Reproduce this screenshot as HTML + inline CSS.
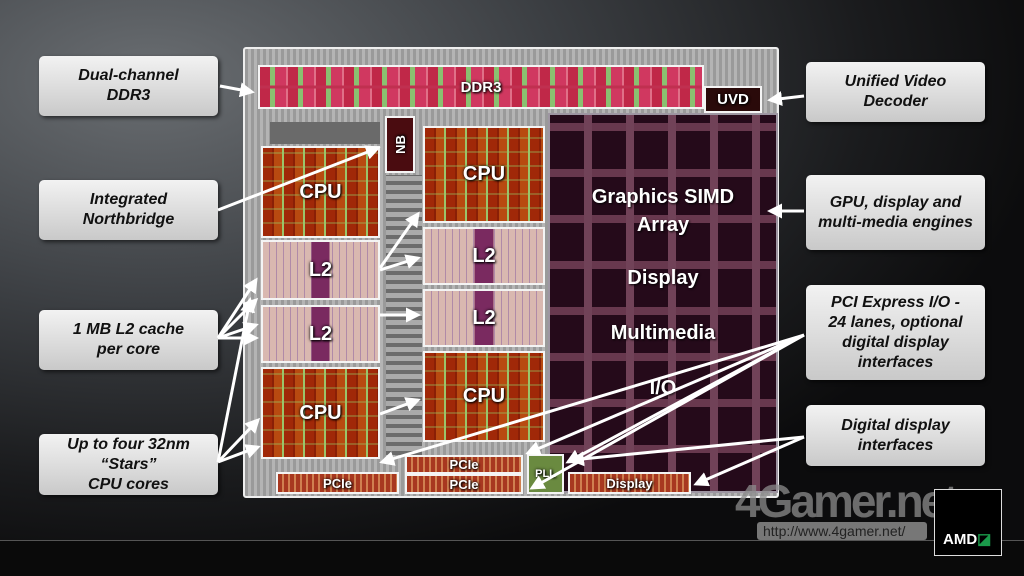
<!DOCTYPE html>
<html><head><meta charset="utf-8"><style>
*{margin:0;padding:0;box-sizing:border-box}
body{width:1024px;height:576px;overflow:hidden;position:relative;font-family:"Liberation Sans",sans-serif;
background:radial-gradient(ellipse 900px 500px at 150px 80px,#6a6e72 0%,#3c3f43 45%,#1a1b1d 80%,#0c0c0d 100%)}
.a{position:absolute}
.lab{position:absolute;border-radius:5px;background:linear-gradient(#f2f2f2,#c9c9c9);box-shadow:2px 2px 4px rgba(0,0,0,.6);
display:flex;align-items:center;justify-content:center;text-align:center;font-weight:bold;font-style:italic;font-size:16px;line-height:20px;color:#111}
.blk{position:absolute;border:2px solid #f4f4f4;display:flex;align-items:center;justify-content:center;color:#fff;font-weight:bold;
text-shadow:1px 1px 2px #000,0 0 3px #000}
.cpu{background:repeating-linear-gradient(90deg,#a02808 0 9px,#8a1f06 9px 11px,#b84a10 11px 19px,#9bc46a 19px 21px),#a02808;font-size:20px}
.cpu::after{content:"";position:absolute;inset:0;background:repeating-linear-gradient(0deg,transparent 0 12px,rgba(150,200,100,.35) 12px 14px)}
.cpu span{position:relative;z-index:1}
.l2{background:linear-gradient(90deg,transparent 42%,#7a2a60 42% 58%,transparent 58%),repeating-linear-gradient(90deg,#d9b8b0 0 6px,#b08aa8 6px 7px),#d0b0b0;font-size:20px}
.pcie{background:repeating-linear-gradient(90deg,#a83820 0 4px,#d08050 4px 6px),#a83820;font-size:13px;border-width:2px}
</style></head><body>
<div class="a" style="left:0;top:541px;width:1024px;height:35px;background:#0a0a0a"></div>
<div class="a" style="left:0;top:540px;width:1024px;height:1px;background:#555"></div>
<!-- die -->
<div class="a" style="left:243px;top:47px;width:536px;height:451px;background:repeating-linear-gradient(90deg,#9a9a9a 0 3px,#b4b4b4 3px 6px);border:2px solid #eee;border-radius:3px"></div>
<div class="a" style="left:386px;top:175px;width:36px;height:280px;background:repeating-linear-gradient(0deg,#6c6c6c 0 4px,#aaa 4px 9px)"></div>
<div class="a" style="left:270px;top:122px;width:110px;height:22px;background:#6a6a6a"></div>
<!-- DDR3 -->
<div class="blk" style="left:258px;top:65px;width:446px;height:44px;font-size:15px;background:linear-gradient(0deg,transparent 46%,#c03050 46% 54%,transparent 54%),repeating-linear-gradient(90deg,#c02848 0 10px,#8ac070 10px 15px,#d03860 15px 26px,#e07088 26px 28px),#c43060"><span>DDR3</span></div>
<div class="blk" style="left:704px;top:86px;width:58px;height:27px;background:#2a0a0a;font-size:15px">UVD</div>
<div class="blk" style="left:385px;top:116px;width:30px;height:57px;background:#4a0c10;font-size:13px"><span style="transform:rotate(-90deg)">NB</span></div>
<!-- GPU -->
<div class="a" style="left:548px;top:113px;width:230px;height:380px;border:2px solid #f4f4f4;
background:repeating-linear-gradient(0deg,#2a0a12 0 38px,#9a5868 38px 46px),repeating-linear-gradient(90deg,#200812 0 34px,#a86878 34px 42px);background-blend-mode:lighten"></div>
<div class="a" style="left:548px;top:113px;width:230px;height:380px;background:rgba(30,10,40,.4)"></div>
<div class="a" style="left:550px;top:183px;width:226px;text-align:center;color:#fff;font-weight:bold;font-size:20px;line-height:28px;text-shadow:1px 1px 2px #000">Graphics SIMD<br>Array</div>
<div class="a" style="left:550px;top:267px;width:226px;text-align:center;color:#fff;font-weight:bold;font-size:20px;text-shadow:1px 1px 2px #000">Display</div>
<div class="a" style="left:550px;top:322px;width:226px;text-align:center;color:#fff;font-weight:bold;font-size:20px;text-shadow:1px 1px 2px #000">Multimedia</div>
<div class="a" style="left:550px;top:377px;width:226px;text-align:center;color:#fff;font-weight:bold;font-size:20px;text-shadow:1px 1px 2px #000">I/O</div>
<!-- CPUs & L2 -->
<div class="blk cpu" style="left:261px;top:146px;width:119px;height:92px"><span>CPU</span></div>
<div class="blk l2" style="left:261px;top:240px;width:119px;height:60px">L2</div>
<div class="blk l2" style="left:261px;top:305px;width:119px;height:58px">L2</div>
<div class="blk cpu" style="left:261px;top:367px;width:119px;height:92px"><span>CPU</span></div>
<div class="blk cpu" style="left:423px;top:126px;width:122px;height:97px"><span>CPU</span></div>
<div class="blk l2" style="left:423px;top:227px;width:122px;height:58px">L2</div>
<div class="blk l2" style="left:423px;top:289px;width:122px;height:58px">L2</div>
<div class="blk cpu" style="left:423px;top:351px;width:122px;height:91px"><span>CPU</span></div>
<!-- bottom -->
<div class="blk pcie" style="left:276px;top:472px;width:123px;height:22px">PCIe</div>
<div class="blk pcie" style="left:405px;top:455px;width:118px;height:19px">PCIe</div>
<div class="blk pcie" style="left:405px;top:474px;width:118px;height:20px">PCIe</div>
<div class="blk" style="left:527px;top:454px;width:37px;height:40px;background:#6a8a40;font-size:11px">PLL</div>
<div class="blk pcie" style="left:568px;top:472px;width:123px;height:22px">Display</div>
<!-- labels -->
<div class="lab" style="left:39px;top:56px;width:179px;height:60px">Dual-channel<br>DDR3</div>
<div class="lab" style="left:39px;top:180px;width:179px;height:60px">Integrated<br>Northbridge</div>
<div class="lab" style="left:39px;top:310px;width:179px;height:60px">1 MB L2 cache<br>per core</div>
<div class="lab" style="left:39px;top:434px;width:179px;height:61px">Up to four 32nm<br>“Stars”<br>CPU cores</div>
<div class="lab" style="left:806px;top:62px;width:179px;height:60px">Unified Video<br>Decoder</div>
<div class="lab" style="left:806px;top:175px;width:179px;height:75px">GPU, display and<br>multi-media engines</div>
<div class="lab" style="left:806px;top:285px;width:179px;height:95px">PCI Express I/O -<br>24 lanes, optional<br>digital display<br>interfaces</div>
<div class="lab" style="left:806px;top:405px;width:179px;height:61px">Digital display<br>interfaces</div>
<!-- arrows -->
<svg class="a" style="left:0;top:0" width="1024" height="576">
<defs><marker id="m" markerWidth="5" markerHeight="5" refX="4" refY="2.5" orient="auto" markerUnits="strokeWidth"><path d="M0,0L5,2.5L0,5z" fill="#fff"/></marker></defs>
<g stroke="#fff" stroke-width="3" fill="none" marker-end="url(#m)">
<line x1="220" y1="86" x2="252" y2="92"/>
<line x1="218" y1="210" x2="378" y2="148"/>
<line x1="218" y1="338" x2="256" y2="280"/>
<line x1="218" y1="338" x2="256" y2="300"/>
<line x1="218" y1="338" x2="256" y2="325"/>
<line x1="218" y1="338" x2="256" y2="338"/>
<line x1="218" y1="462" x2="258" y2="420"/>
<line x1="218" y1="462" x2="258" y2="447"/>
<line x1="218" y1="462" x2="250" y2="300"/>
<line x1="380" y1="268" x2="418" y2="214"/>
<line x1="380" y1="270" x2="418" y2="258"/>
<line x1="380" y1="315" x2="418" y2="315"/>
<line x1="380" y1="414" x2="418" y2="400"/>
<line x1="804" y1="96" x2="770" y2="100"/>
<line x1="804" y1="211" x2="770" y2="211"/>
<line x1="804" y1="335" x2="382" y2="462"/>
<line x1="804" y1="335" x2="528" y2="453"/>
<line x1="804" y1="335" x2="532" y2="488"/>
<line x1="804" y1="335" x2="568" y2="462"/>
<line x1="804" y1="437" x2="572" y2="460"/>
<line x1="804" y1="437" x2="696" y2="484"/>
</g></svg>
<div class="a" style="left:735px;top:474px;font-size:46px;font-weight:bold;letter-spacing:-3px;color:rgba(140,140,140,.75)">4Gamer.net</div>
<div class="a" style="left:757px;top:522px;width:170px;height:18px;background:#777;border-radius:3px;font-size:14px;line-height:18px;color:#222;padding-left:6px">http://www.4gamer.net/</div>
<div class="a" style="left:934px;top:489px;width:68px;height:67px;background:#000;border:1px solid #ddd;color:#fff;font-weight:bold;font-size:15px;padding:40px 0 0 8px">AMD<span style="color:#1a9a4a">◪</span></div>
</body></html>
